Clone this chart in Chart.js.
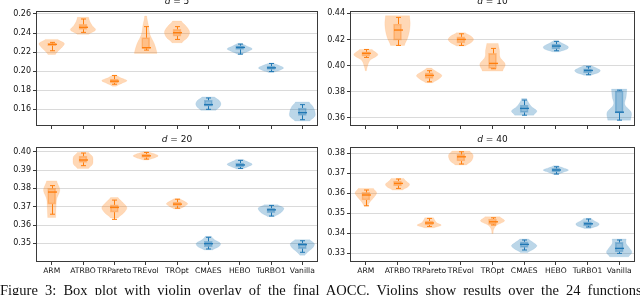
<!DOCTYPE html>
<html>
<head>
<meta charset="utf-8">
<script src="https://cdn.jsdelivr.net/npm/chart.js@4.4.0/dist/chart.umd.min.js"></script>
<style>
body { margin: 0; background: #fff; }
#wrap { position: relative; width: 640px; height: 295px; overflow: hidden; }
canvas { position: absolute; }
#cap { position: absolute; left: 0; top: 282px; font: 14.5px "Liberation Serif"; word-spacing: 3.5px; color: #111; white-space: nowrap; }
</style>
</head>
<body>
<div id="wrap">
  <canvas id="c5" width="320" height="135" style="left:0;top:0"></canvas>
  <canvas id="c10" width="320" height="135" style="left:320px;top:0"></canvas>
  <canvas id="c20" width="320" height="160" style="left:0;top:135px"></canvas>
  <canvas id="c40" width="320" height="160" style="left:320px;top:135px"></canvas>
  <div id="cap">Figure 3: Box plot with violin overlay of the final AOCC. Violins show results over the 24 functions</div>
</div>
<script>
const methods = ['ARM', 'ATRBO', 'TRPareto', 'TREvol', 'TROpt', 'CMAES', 'HEBO', 'TuRBO1', 'Vanilla'];
const nOurs = 5; // first five are the LLM-generated ones (orange)

// box: [whisker low, q1, median, q3, whisker high]
const box5 = [
  [0.2214, 0.2267, 0.2281, 0.2291, 0.2302],
  [0.2407, 0.2439, 0.2460, 0.2491, 0.2547],
  [0.1863, 0.1877, 0.1895, 0.1916, 0.1954],
  [0.2221, 0.2239, 0.2246, 0.2351, 0.2467],
  [0.2333, 0.2368, 0.2404, 0.2439, 0.2467],
  [0.1600, 0.1633, 0.1649, 0.1695, 0.1719],
  [0.2179, 0.2228, 0.2249, 0.2267, 0.2284],
  [0.1996, 0.2018, 0.2035, 0.2053, 0.2081],
  [0.1491, 0.1537, 0.1565, 0.1614, 0.1649]
];
// violin extent: [low, high]
const violin5 = [
  [0.2175, 0.2333], [0.2386, 0.2565], [0.1842, 0.1961], [0.2186, 0.2579], [0.2298, 0.2526],
  [0.1589, 0.1730], [0.2175, 0.2291], [0.1986, 0.2081], [0.1477, 0.1677]
];
// violin half-width, bottom to top, relative to the widest one
const shape5 = [
  [0.3, 0.55, 0.85, 1, 0.5], [0.45, 1, 0.75, 0.55, 0.45], [0.15, 0.6, 1, 0.5, 0.15],
  [0.9, 0.7, 0.35, 0.22, 0.08], [0.4, 0.85, 1, 0.75, 0.35], [0.6, 0.9, 1, 0.85, 0.5],
  [0.15, 0.6, 1, 0.6, 0.2], [0.2, 0.7, 1, 0.7, 0.25], [0.6, 1, 1, 0.85, 0.55]
];

const box10 = [
  [0.4062, 0.4072, 0.4093, 0.4105, 0.4123],
  [0.4154, 0.4195, 0.4272, 0.4318, 0.4369],
  [0.3875, 0.3901, 0.3924, 0.3944, 0.3960],
  [0.4154, 0.4174, 0.4200, 0.4220, 0.4243],
  [0.3975, 0.3978, 0.4016, 0.4093, 0.4131],
  [0.3619, 0.3640, 0.3671, 0.3696, 0.3735],
  [0.4113, 0.4128, 0.4149, 0.4164, 0.4185],
  [0.3929, 0.3944, 0.3962, 0.3975, 0.3990],
  [0.3581, 0.3637, 0.3642, 0.3806, 0.3811]
];
const violin10 = [
  [0.3960, 0.4123], [0.4154, 0.4382], [0.3868, 0.3980], [0.4149, 0.4251], [0.3957, 0.4169],
  [0.3619, 0.3747], [0.4105, 0.4190], [0.3926, 0.4000], [0.3581, 0.3819]
];
const shape10 = [
  [0.05, 0.15, 0.35, 0.95, 0.5], [0.55, 0.8, 0.95, 1, 0.95], [0.3, 0.75, 1, 0.6, 0.2],
  [0.35, 0.8, 1, 0.8, 0.35], [0.8, 1, 0.6, 0.55, 0.45], [0.75, 1, 0.6, 0.35, 0.2],
  [0.3, 0.9, 0.95, 0.55, 0.2], [0.3, 0.85, 1, 0.7, 0.3], [0.9, 0.95, 0.45, 0.55, 0.6]
];

const box20 = [
  [0.3659, 0.3714, 0.3780, 0.3800, 0.3815],
  [0.3924, 0.3942, 0.3955, 0.3976, 0.3993],
  [0.3631, 0.3670, 0.3696, 0.3710, 0.3736],
  [0.3960, 0.3969, 0.3978, 0.3987, 0.3996],
  [0.3692, 0.3705, 0.3714, 0.3725, 0.3741],
  [0.3469, 0.3482, 0.3498, 0.3511, 0.3533],
  [0.3909, 0.3917, 0.3928, 0.3938, 0.3953],
  [0.3649, 0.3668, 0.3683, 0.3692, 0.3707],
  [0.3451, 0.3471, 0.3493, 0.3502, 0.3514]
];
const violin20 = [
  [0.3641, 0.3841], [0.3909, 0.3996], [0.3638, 0.3750], [0.3955, 0.4000], [0.3688, 0.3743],
  [0.3464, 0.3538], [0.3906, 0.3958], [0.3647, 0.3710], [0.3435, 0.3520]
];
const shape20 = [
  [0.32, 0.35, 0.4, 0.65, 0.4], [0.45, 0.75, 0.8, 0.75, 0.45], [0.3, 0.75, 1, 0.7, 0.3],
  [0.2, 0.7, 1, 0.7, 0.2], [0.25, 0.6, 0.85, 0.6, 0.25], [0.35, 0.85, 0.95, 0.5, 0.25],
  [0.25, 0.7, 1, 0.65, 0.3], [0.3, 0.7, 0.95, 1, 0.55], [0.2, 0.5, 0.85, 0.95, 0.6]
];

const box40 = [
  [0.3538, 0.3567, 0.3592, 0.3605, 0.3617],
  [0.3625, 0.3638, 0.3650, 0.3662, 0.3672],
  [0.3435, 0.3442, 0.3452, 0.3462, 0.3475],
  [0.3747, 0.3762, 0.3783, 0.3795, 0.3808],
  [0.3442, 0.3445, 0.3458, 0.3472, 0.3478],
  [0.3317, 0.3330, 0.3345, 0.3358, 0.3367],
  [0.3697, 0.3708, 0.3717, 0.3725, 0.3733],
  [0.3432, 0.3438, 0.3448, 0.3458, 0.3472],
  [0.3300, 0.3308, 0.3325, 0.3355, 0.3367]
];
const violin40 = [
  [0.3537, 0.3625], [0.3617, 0.3675], [0.3428, 0.3478], [0.3742, 0.3812], [0.3400, 0.3483],
  [0.3305, 0.3372], [0.3695, 0.3738], [0.3425, 0.3475], [0.3283, 0.3372]
];
const shape40 = [
  [0.15, 0.35, 0.65, 0.85, 0.6], [0.4, 0.8, 0.95, 0.7, 0.5], [0.4, 0.95, 0.6, 0.45, 0.35],
  [0.45, 0.8, 0.95, 0.95, 0.7], [0.05, 0.1, 0.35, 0.95, 0.6], [0.3, 0.75, 1, 0.7, 0.35],
  [0.2, 0.6, 1, 0.6, 0.2], [0.25, 0.8, 0.9, 0.55, 0.3], [0.75, 1, 0.8, 0.55, 0.55]
];

const ticks5 = [0.16, 0.18, 0.20, 0.22, 0.24, 0.26];
const ticks10 = [0.36, 0.38, 0.40, 0.42, 0.44];
const ticks20 = [0.35, 0.36, 0.37, 0.38, 0.39, 0.40];
const ticks40 = [0.33, 0.34, 0.35, 0.36, 0.37, 0.38];

const ORANGE = [255, 127, 14];
const BLUE = [31, 119, 180];
const rgba = (c, a) => `rgba(${c[0]},${c[1]},${c[2]},${a})`;
const colOf = i => (i < nOurs ? ORANGE : BLUE);

// catmull-rom through the shape samples
function widthAt(s, t) {
  const n = s.length - 1;
  const x = t * n;
  let k = Math.min(Math.floor(x), n - 1);
  const u = x - k;
  const p0 = s[Math.max(k - 1, 0)], p1 = s[k], p2 = s[k + 1], p3 = s[Math.min(k + 2, n)];
  const w = 0.5 * ((2 * p1) + (-p0 + p2) * u + (2 * p0 - 5 * p1 + 4 * p2 - p3) * u * u +
    (-p0 + 3 * p1 - 3 * p2 + p3) * u * u * u);
  return Math.max(w, 0.02);
}

const violinPlugin = {
  id: 'violins',
  beforeDatasetsDraw(chart) {
    const { ctx, scales: { x, y } } = chart;
    const o = chart.options.plugins.violins;
    const half = 0.4 * (x.getPixelForValue(1) - x.getPixelForValue(0));
    o.violin.forEach((v, i) => {
      const cx = x.getPixelForValue(i);
      const steps = 40;
      ctx.save();
      ctx.beginPath();
      for (let k = 0; k <= steps; k++) {
        const t = k / steps;
        const py = y.getPixelForValue(v[0] + (v[1] - v[0]) * t);
        const w = widthAt(o.shape[i], t) * half;
        if (k === 0) ctx.moveTo(cx + w, py); else ctx.lineTo(cx + w, py);
      }
      for (let k = steps; k >= 0; k--) {
        const t = k / steps;
        const py = y.getPixelForValue(v[0] + (v[1] - v[0]) * t);
        ctx.lineTo(cx - widthAt(o.shape[i], t) * half, py);
      }
      ctx.closePath();
      ctx.fillStyle = rgba(colOf(i), 0.3);
      ctx.fill();
      ctx.strokeStyle = rgba(colOf(i), 0.12);
      ctx.lineWidth = 0.8;
      ctx.stroke();
      ctx.restore();
    });
  },
  afterDatasetsDraw(chart) {
    const { ctx, scales: { x, y } } = chart;
    const o = chart.options.plugins.violins;
    o.box.forEach((b, i) => {
      const cx = Math.round(x.getPixelForValue(i)) + 0.5;
      const yl = y.getPixelForValue(b[0]), y1 = y.getPixelForValue(b[1]);
      const ym = y.getPixelForValue(b[2]), y3 = y.getPixelForValue(b[3]);
      const yh = y.getPixelForValue(b[4]);
      ctx.save();
      ctx.strokeStyle = rgba(colOf(i), 1);
      ctx.lineWidth = 1;
      ctx.beginPath();
      ctx.moveTo(cx, yl); ctx.lineTo(cx, y1);
      ctx.moveTo(cx, y3); ctx.lineTo(cx, yh);
      ctx.moveTo(cx - 2.5, yl); ctx.lineTo(cx + 2.5, yl);
      ctx.moveTo(cx - 2.5, yh); ctx.lineTo(cx + 2.5, yh);
      ctx.stroke();
      ctx.lineWidth = 1.4;
      ctx.beginPath();
      ctx.moveTo(cx - 4.5, ym); ctx.lineTo(cx + 4.5, ym);
      ctx.stroke();
      ctx.restore();
    });
  },
  afterDraw(chart) {
    const { ctx, chartArea: a } = chart;
    const o = chart.options.plugins.violins;
    ctx.save();
    ctx.strokeStyle = '#3a3a3a';
    ctx.lineWidth = 1;
    ctx.strokeRect(Math.round(a.left) + 0.5, Math.round(a.top) + 0.5,
      Math.round(a.right - a.left) - 1, Math.round(a.bottom - a.top) - 1);
    // title "d = N" with italic d
    ctx.fillStyle = '#111';
    ctx.textBaseline = 'middle';
    ctx.font = 'italic 9px "DejaVu Sans"';
    const wd = ctx.measureText('d').width;
    ctx.font = '9px "DejaVu Sans"';
    const rest = ' = ' + o.dim;
    const wr = ctx.measureText(rest).width;
    const x0 = (a.left + a.right) / 2 - (wd + wr) / 2;
    ctx.font = 'italic 9px "DejaVu Sans"';
    ctx.fillText('d', x0, o.titleY);
    ctx.font = '9px "DejaVu Sans"';
    ctx.fillText(rest, x0 + wd, o.titleY);
    ctx.restore();
  }
};

function makeChart(id, dim, box, violin, shape, yMin, yMax, yTicks, lay) {
  return new Chart(document.getElementById(id), {
    type: 'bar',
    data: {
      labels: methods,
      datasets: [{
        data: box.map(b => [b[1], b[3]]),
        backgroundColor: methods.map((m, i) => rgba(colOf(i), 0.28)),
        borderColor: methods.map((m, i) => rgba(colOf(i), 0.35)),
        borderWidth: 1,
        borderSkipped: false,
        barThickness: 8
      }]
    },
    plugins: [violinPlugin],
    options: {
      responsive: false,
      animation: false,
      events: [],
      layout: { padding: { left: 0, top: lay.top, right: lay.right, bottom: 0 } },
      plugins: {
        legend: { display: false },
        tooltip: { enabled: false },
        violins: { box, violin, shape, dim, titleY: lay.titleY }
      },
      scales: {
        x: {
          offset: true,
          grid: { offset: false, drawOnChartArea: false, drawTicks: true, tickLength: 3, tickColor: '#3a3a3a' },
          border: { display: false },
          ticks: {
            display: lay.labels, padding: 1, maxRotation: 0, autoSkip: false,
            color: '#111', font: { family: 'DejaVu Sans', size: 7.6 }
          },
          afterFit: s => { s.height = lay.xh; }
        },
        y: {
          min: yMin,
          max: yMax,
          grid: { color: '#dadada', lineWidth: 1, drawTicks: true, tickLength: 3, tickColor: '#3a3a3a' },
          border: { display: false },
          ticks: {
            padding: 2, color: '#111', font: { family: 'DejaVu Sans', size: 8 },
            callback: v => v.toFixed(2)
          },
          afterBuildTicks: s => { s.ticks = yTicks.map(v => ({ value: v })); },
          afterFit: s => { s.width = lay.yw; }
        }
      }
    }
  });
}

makeChart('c5', 5, box5, violin5, shape5, 0.1425, 0.2631, ticks5,
  { top: 11, right: 2, yw: 36, xh: 9, labels: false, titleY: 2 });
makeChart('c10', 10, box10, violin10, shape10, 0.3536, 0.4418, ticks10,
  { top: 11, right: 5, yw: 30, xh: 9, labels: false, titleY: 2 });
makeChart('c20', 20, box20, violin20, shape20, 0.3398, 0.4026, ticks20,
  { top: 12, right: 2, yw: 36, xh: 33, labels: true, titleY: 5 });
makeChart('c40', 40, box40, violin40, shape40, 0.3257, 0.3832, ticks40,
  { top: 12, right: 5, yw: 30, xh: 33, labels: true, titleY: 5 });
</script>
</body>
</html>
